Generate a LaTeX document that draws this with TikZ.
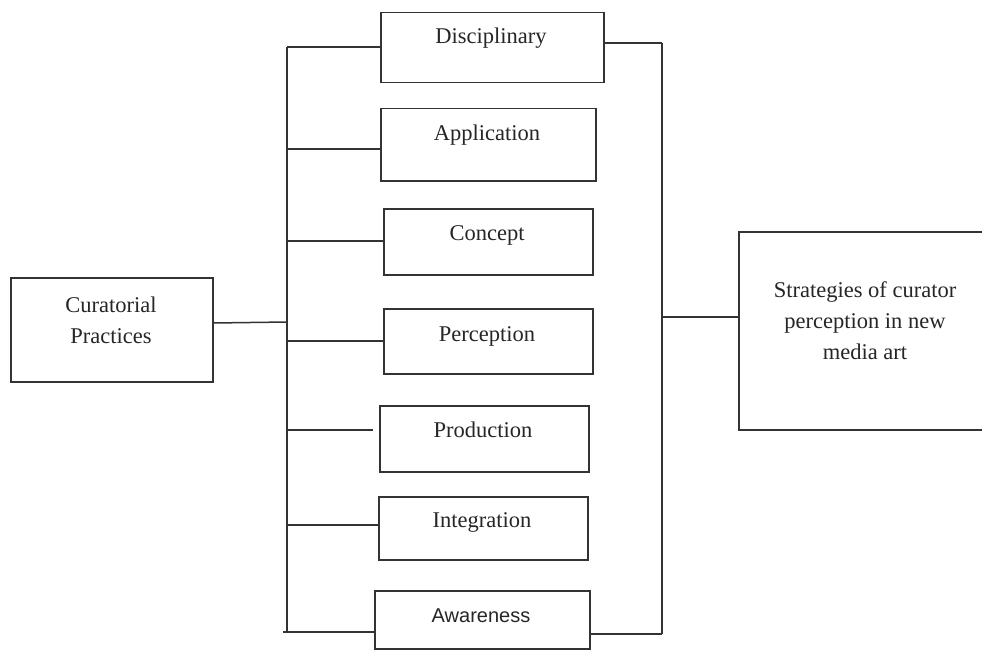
\documentclass[tikz,border=0pt]{standalone}
\usepackage{fontspec}
\setmainfont{Liberation Serif}
\newfontfamily\arialfont{Liberation Sans}
\begin{document}
\begin{tikzpicture}[x=1pt,y=-1pt,
  box/.style={draw=black!80, line width=1.5pt, inner sep=0pt, anchor=north west},
  lbl/.style={font=\fontsize{22.5}{31}\selectfont, inner sep=0pt, align=center, text=black!85},
  conn/.style={draw=black!80, line width=1.5pt}]
\clip (0,0) rectangle (982,650);
\fill[white] (0,0) rectangle (982,650);
% boxes
\node[box, minimum width=202pt, minimum height=104pt] (cur) at (10,277) {};
\node[box, minimum width=223pt, minimum height=70pt] (dis) at (380,12) {};
\node[box, minimum width=215pt, minimum height=72pt] (app) at (380,108) {};
\node[box, minimum width=209pt, minimum height=66pt] (con) at (383,208) {};
\node[box, minimum width=209pt, minimum height=65pt] (per) at (383,308) {};
\node[box, minimum width=209pt, minimum height=66pt] (pro) at (379,405) {};
\node[box, minimum width=209pt, minimum height=63pt] (int) at (378,496) {};
\node[box, minimum width=215pt, minimum height=58pt] (awa) at (374,590) {};
\node[box, minimum width=260pt, minimum height=198pt] (str) at (738,231) {};
% labels
\node[lbl, anchor=center] (tcur) at (111,320) {Curatorial\\Practices};
\node[lbl, anchor=base] (tdis) at (491,44) {Disciplinary};
\node[lbl, anchor=base] (tapp) at (487,140) {Application};
\node[lbl, anchor=base] (tcon) at (487,240) {Concept};
\node[lbl, anchor=base] (tper) at (487,341) {Perception};
\node[lbl, anchor=base] (tpro) at (483,437) {Production};
\node[lbl, anchor=base] (tint) at (482,527) {Integration};
\node[lbl, anchor=base, font=\arialfont\fontsize{20}{24}\selectfont] (tawa) at (481,622) {Awareness};
\node[lbl, anchor=center] (tstr) at (865,321) {Strategies of curator\\perception in new\\media art};
% buses
\coordinate (lt) at (287,47);
\coordinate (lb) at (287,632);
\coordinate (rt) at (662,43);
\coordinate (rb) at (662,634);
\draw[conn] (lt) -- (lb);
\draw[conn] (rt) -- (rb);
% left connectors
\coordinate (cj) at (287,322);
\draw[conn] (cur.east |- 0,323) -- (cj);
\draw[conn] (lt) -- (lt -| dis.west);
\coordinate (l2) at (287,149);
\draw[conn] (l2) -- (l2 -| app.west);
\coordinate (l3) at (287,241);
\draw[conn] (l3) -- (l3 -| con.west);
\coordinate (l4) at (287,341);
\draw[conn] (l4) -- (l4 -| per.west);
\coordinate (l5) at (287,430);
\coordinate (l5e) at (373,430);
\draw[conn] (l5) -- (l5e);
\coordinate (l6) at (287,525);
\draw[conn] (l6) -- (l6 -| int.west);
\coordinate (l7) at (283,632);
\draw[conn] (l7) -- (l7 -| awa.west);
% right connectors
\draw[conn] (rt -| dis.east) -- (rt);
\draw[conn] (rb -| awa.east) -- (rb);
\coordinate (rj) at (662,317);
\draw[conn] (rj) -- (rj -| str.west);
\end{tikzpicture}
\end{document}
